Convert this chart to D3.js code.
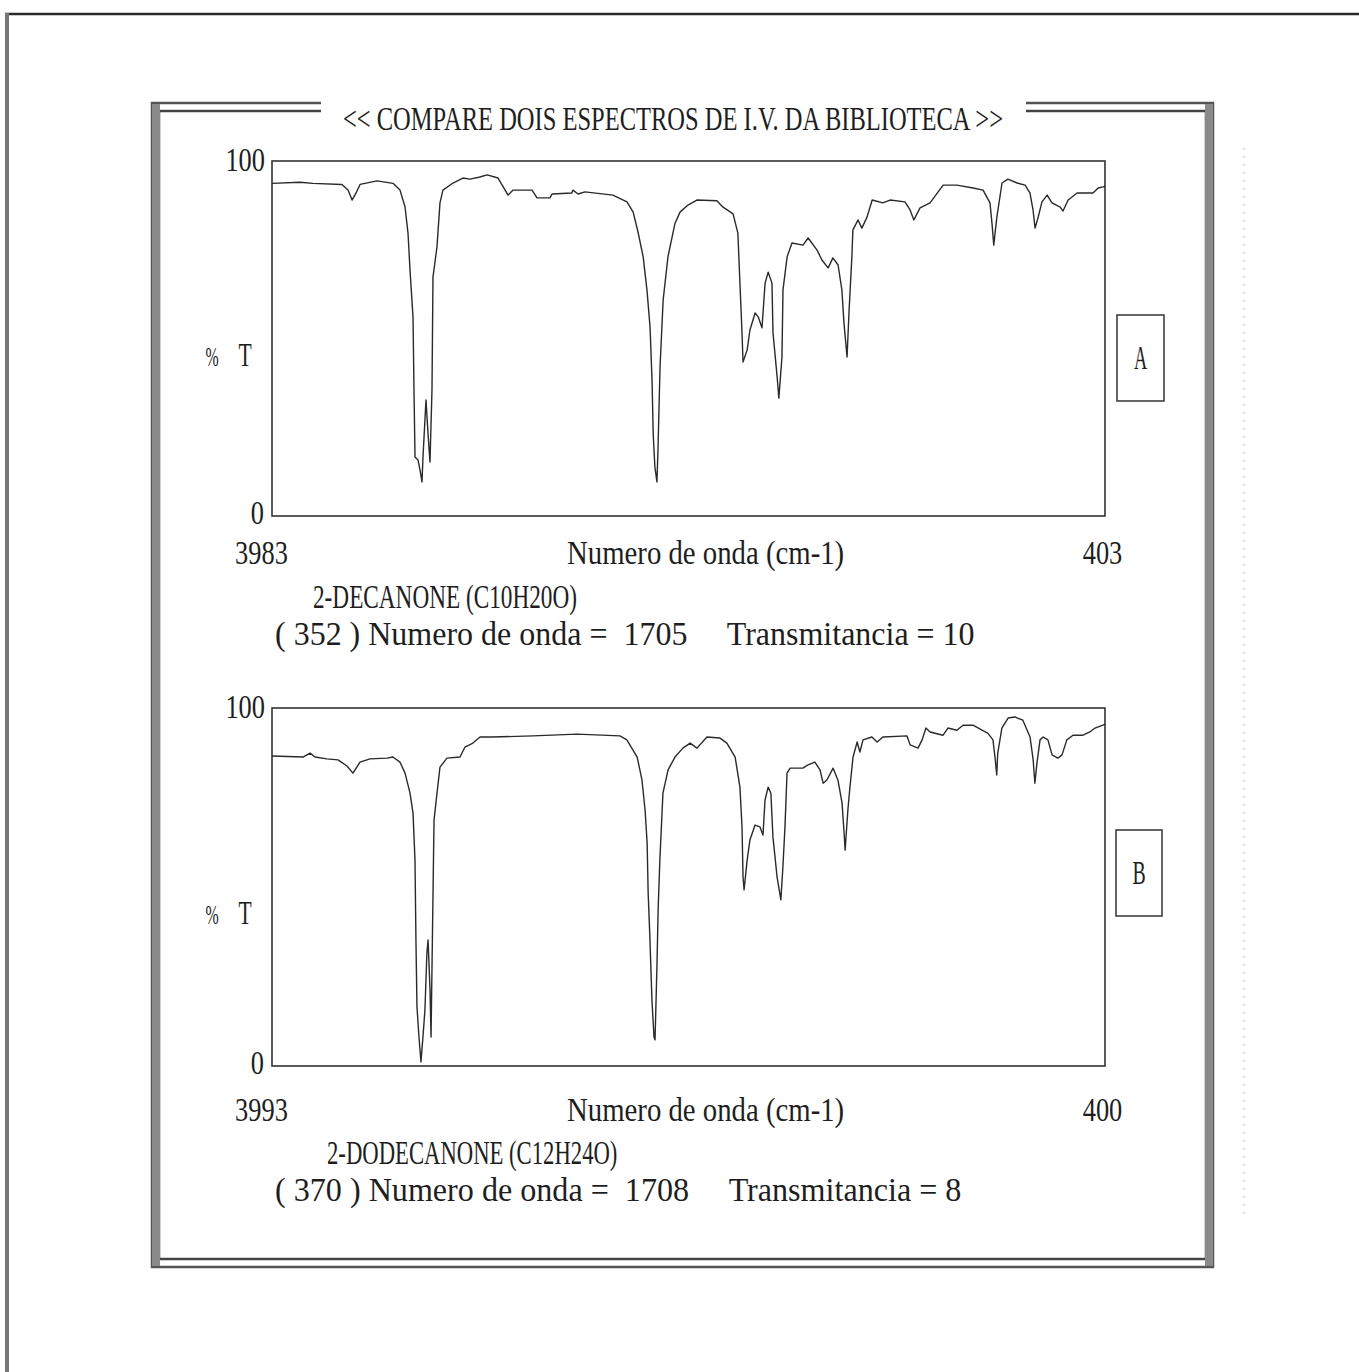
<!DOCTYPE html>
<html><head><meta charset="utf-8">
<script src="https://cdn.jsdelivr.net/npm/d3@7"></script>
<style>body{margin:0;background:#fff}svg{display:block}</style></head>
<body>
<script>
// ---------- data ----------
const titleText = "<< COMPARE DOIS ESPECTROS DE I.V. DA BIBLIOTECA >>";
const yTickValues = [0, 100];
const axisTitle = "Numero de onda (cm-1)";
const yLabel = ["%", "T"];
const panelLetters = ["A", "B"];
const domainA = [3983, 2000, 403];
const domainB = [3993, 2000, 400];
const nameA = "2-DECANONE (C10H20O)";
const nameB = "2-DODECANONE (C12H24O)";
const infoA = "( 352 ) Numero de onda =  1705     Transmitancia = 10";
const infoB = "( 370 ) Numero de onda =  1708     Transmitancia = 8";

const wnA = [3983,3787,3696,3493,3450,3422,3394,3366,3247,3135,3086,3051,3030,3016,2995,2988,2981,2960,2946,2932,2925,2904,2890,2876,2862,2855,2827,2806,2785,2715,2645,2596,2526,2476,2399,2329,2294,2161,2126,2035,2021,1951,1948,1933,1913,1832,1791,1773,1759,1744,1733,1724,1718,1715,1710,1704,1701,1695,1686,1672,1652,1637,1614,1588,1530,1512,1483,1469,1463,1457,1454,1442,1434,1419,1410,1399,1390,1381,1370,1367,1355,1350,1341,1338,1326,1312,1280,1265,1239,1225,1207,1193,1178,1167,1161,1152,1146,1138,1135,1120,1109,1094,1079,1048,1027,984,969,958,940,911,873,833,786,757,737,731,726,717,702,685,658,635,621,612,606,597,586,571,557,533,525,510,484,438,423,409,403];
const tA = [93.7,94.0,93.7,93.4,91.8,89.0,91.0,93.4,94.4,93.7,91.8,87.1,79.7,69.3,56.1,35.5,16.6,15.8,13.0,9.6,16.6,32.7,23.4,15.2,35.5,67.3,75.8,88.2,91.8,93.8,95.2,94.9,95.5,96.1,95.2,90.4,91.8,91.8,89.6,89.6,90.7,91.0,91.8,90.7,91.3,90.4,88.5,85.6,80.0,73.0,63.7,53.2,37.5,23.4,13.8,9.6,18.6,42.0,60.8,73.0,82.3,85.6,87.6,89.0,88.8,87.0,85.1,79.7,65.6,51.6,43.4,46.8,52.4,57.2,56.1,53.0,65.6,68.7,65.6,51.6,39.2,33.2,44.8,63.7,73.0,76.9,76.3,78.3,74.9,72.1,69.9,72.7,70.7,63.7,54.4,44.8,58.0,73.0,80.6,83.4,81.1,84.2,89.0,88.2,89.0,88.5,86.2,83.4,86.8,88.2,93.2,93.2,92.4,91.8,88.2,82.3,76.3,84.2,93.8,94.9,93.8,93.2,91.0,86.2,81.1,84.2,88.5,90.4,88.2,87.0,85.9,89.0,91.0,91.0,92.4,92.7,92.9];

const wnB = [3993,3775,3725,3690,3606,3528,3465,3423,3373,3303,3183,3141,3092,3056,3021,3000,2986,2979,2972,2958,2944,2930,2916,2902,2894,2880,2873,2859,2852,2831,2810,2761,2669,2634,2578,2528,2437,2155,1936,1811,1791,1761,1747,1738,1732,1729,1724,1718,1712,1709,1706,1703,1700,1695,1686,1671,1651,1628,1607,1587,1558,1520,1500,1476,1462,1456,1453,1450,1441,1433,1418,1404,1395,1389,1380,1372,1366,1354,1343,1337,1331,1325,1316,1279,1264,1244,1229,1220,1209,1191,1177,1165,1159,1156,1148,1142,1133,1121,1113,1104,1078,1063,1046,976,967,944,932,921,909,871,857,831,813,784,758,741,726,720,715,712,700,682,662,639,618,609,604,598,589,580,566,554,537,525,511,493,464,444,429,406,400];
const tB = [86.6,86.3,87.4,86.3,85.8,85.5,83.8,81.8,84.9,85.8,86.0,86.3,84.9,81.8,76.2,70.7,57.5,34.4,16.5,8.1,1.1,8.1,15.6,31.6,35.2,21.2,8.1,48.3,68.7,76.2,83.5,86.0,86.3,89.1,90.2,91.9,91.9,92.2,92.7,92.2,91.1,86.3,79.9,71.5,62.3,48.3,36.0,18.4,8.1,7.3,18.4,29.6,43.6,57.5,76.2,82.7,86.3,88.8,90.2,88.8,91.9,91.6,90.2,86.3,77.9,66.8,52.8,49.2,57.5,63.1,67.3,66.8,64.5,74.3,77.9,76.2,64.0,52.8,46.4,55.6,66.8,81.8,83.2,83.2,84.1,84.9,82.7,79.0,79.9,83.2,79.9,73.5,65.1,60.3,71.5,77.9,86.3,90.5,87.7,91.1,91.9,90.5,91.9,92.2,89.7,88.8,91.1,94.4,93.3,92.4,94.4,93.8,95.2,95.2,93.8,93.0,91.1,86.3,81.3,87.4,94.4,97.2,97.5,96.6,91.9,85.5,79.0,84.6,91.1,91.9,91.1,86.9,86.0,86.9,91.1,92.4,92.4,93.3,94.4,95.2,95.5];

// ---------- drawing ----------
const W = 1359, H = 1372, CW = 13.2;
const FONT = "'Liberation Serif', 'DejaVu Serif', serif";
const FS = 34;
const INK = "#1e1e1e";

const svg = d3.select("body").append("svg").attr("width", W).attr("height", H)
  .style("background", "#fff");

function txt(x, y, s, anchor) {
  return svg.append("text")
    .attr("x", x).attr("y", y)
    .attr("text-anchor", anchor || "start")
    .attr("font-family", FONT).attr("font-size", FS)
    .attr("fill", INK)
    .attr("textLength", s.length * CW)
    .attr("lengthAdjust", "spacingAndGlyphs")
    .style("white-space", "pre")
    .text(s);
}

// page borders
svg.append("line").attr("x1", 5).attr("x2", W).attr("y1", 14).attr("y2", 14)
  .attr("stroke", "#2a2a2a").attr("stroke-width", 2.5);
svg.append("line").attr("x1", 7).attr("x2", 7).attr("y1", 13).attr("y2", H)
  .attr("stroke", "#777").attr("stroke-width", 4);
svg.append("line").attr("x1", 1244).attr("x2", 1244).attr("y1", 148).attr("y2", 1215)
  .attr("stroke", "#bbb").attr("stroke-width", 1).attr("stroke-dasharray", "2,6");

// main double frame
svg.append("rect").attr("x", 152).attr("y", 103).attr("width", 1061).attr("height", 1164)
  .attr("fill", "none").attr("stroke", "#555").attr("stroke-width", 2.5);
svg.append("rect").attr("x", 159).attr("y", 111).attr("width", 1047).attr("height", 1148)
  .attr("fill", "none").attr("stroke", "#444").attr("stroke-width", 2.5);
svg.append("rect").attr("x", 152).attr("y", 104).attr("width", 8).attr("height", 1162).attr("fill", "#8a8a8a");
svg.append("rect").attr("x", 1205).attr("y", 104).attr("width", 8).attr("height", 1162).attr("fill", "#8a8a8a");
// gap for title
svg.append("rect").attr("x", 321).attr("y", 96).attr("width", 705).attr("height", 20).attr("fill", "#fff");
txt(343, 130, titleText);

function panel(cfg) {
  const x = d3.scaleLinear().domain(cfg.domain).range([272, 555, 1105]);
  const y = d3.scaleLinear().domain([0, 100]).range([cfg.bottom, cfg.top]);
  const g = svg.append("g");

  // plot box
  g.append("rect").attr("x", x.range()[0]).attr("y", y(100))
    .attr("width", x.range()[2] - x.range()[0]).attr("height", y(0) - y(100))
    .attr("fill", "none").attr("stroke", "#333").attr("stroke-width", 1.6);

  // spectrum
  const pts = cfg.wn.map((w, i) => [w, cfg.t[i]]);
  g.append("path").datum(pts)
    .attr("d", d3.line().x(d => x(d[0])).y(d => y(d[1])))
    .attr("fill", "none").attr("stroke", "#2a2a2a").attr("stroke-width", 1.4)
    .attr("stroke-linejoin", "round");

  // y axis labels (0 / 100)
  const ya = svg.append("g").attr("transform", `translate(${x.range()[0]},0)`)
    .call(d3.axisLeft(y).tickValues(yTickValues).tickSize(0).tickPadding(7));
  ya.select(".domain").remove();
  ya.selectAll("text")
    .attr("font-family", FONT).attr("font-size", FS).attr("fill", INK)
    .attr("dy", null)
    .attr("y", d => d === 100 ? 9 : 7)
    .attr("x", d => d === 100 ? -7 : -8)
    .attr("textLength", d => String(d).length * CW)
    .attr("lengthAdjust", "spacingAndGlyphs");

  // x axis end labels
  const xa = svg.append("g").attr("transform", `translate(0,${y(0)})`)
    .call(d3.axisBottom(x).tickValues([cfg.domain[0], cfg.domain[2]]).tickSize(0)
      .tickFormat(d3.format("d")));
  xa.select(".domain").remove();
  xa.selectAll("text")
    .attr("font-family", FONT).attr("font-size", FS).attr("fill", INK)
    .attr("dy", null).attr("y", cfg.xLabY)
    .attr("text-anchor", "middle")
    .attr("x", (d, i) => i === 0 ? -11 : -3)
    .attr("textLength", d => String(d).length * CW)
    .attr("lengthAdjust", "spacingAndGlyphs");

  txt(567, y(0) + cfg.xLabY, axisTitle);

  // % T
  const my = cfg.pctY;
  svg.append("text").attr("x", 212).attr("y", my).attr("text-anchor", "middle")
    .attr("font-family", FONT).attr("font-size", 28).attr("fill", INK)
    .attr("textLength", CW).attr("lengthAdjust", "spacingAndGlyphs").text(yLabel[0]);
  svg.append("text").attr("x", 245).attr("y", my).attr("text-anchor", "middle")
    .attr("font-family", FONT).attr("font-size", FS).attr("fill", INK)
    .attr("textLength", CW).attr("lengthAdjust", "spacingAndGlyphs").text(yLabel[1]);

  // letter box
  const b = cfg.box;
  svg.append("rect").attr("x", b[0]).attr("y", b[1]).attr("width", b[2]).attr("height", b[3])
    .attr("fill", "none").attr("stroke", "#333").attr("stroke-width", 1.5);
  txt(b[0] + b[2] / 2, b[1] + b[3] / 2 + 11, cfg.letter, "middle");

  txt(cfg.nameX, cfg.nameY, cfg.name);
  txt(275, cfg.infoY, cfg.info);
}

panel({domain: domainA, wn: wnA, t: tA, top: 161, bottom: 516, xLabY: 48,
  pctY: 366, box: [1117, 315, 47, 86], letter: panelLetters[0],
  name: nameA, nameX: 313, nameY: 608, info: infoA, infoY: 645});
panel({domain: domainB, wn: wnB, t: tB, top: 708, bottom: 1066, xLabY: 55,
  pctY: 924, box: [1116, 830, 46, 86], letter: panelLetters[1],
  name: nameB, nameX: 327, nameY: 1164, info: infoB, infoY: 1201});
</script>
</body></html>
